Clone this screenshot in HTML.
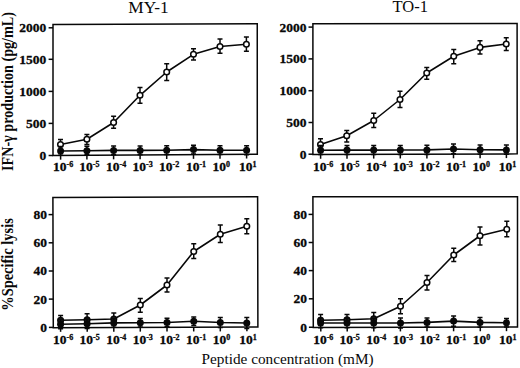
<!DOCTYPE html>
<html><head><meta charset="utf-8"><style>
html,body{margin:0;padding:0;background:#fff;width:520px;height:368px;overflow:hidden}
svg{display:block}
text{font-family:"Liberation Serif",serif;fill:#080808}
.fr{fill:none;stroke:#080808;stroke-width:1.5;stroke-linejoin:miter}
.tk{stroke:#080808;stroke-width:1.5}
.dl{fill:none;stroke:#080808;stroke-width:1.6;stroke-linejoin:round}
.eb{fill:none;stroke:#080808;stroke-width:1.5}
.oc{fill:#fff;stroke:#080808;stroke-width:1.5}
.fc{fill:#080808;stroke:none}
.dk{fill:#222}
.yl{font-weight:bold;font-size:13.5px;text-anchor:end;stroke:#080808;stroke-width:0.3px}
.xl{font-weight:bold;font-size:13.5px;stroke:#080808;stroke-width:0.3px}
.sup{font-size:8px}
.ti{font-size:16px}
.al{font-weight:bold;font-size:16px}
.xt{font-size:15px}
</style></head><body>
<svg width="520" height="368" viewBox="0 0 520 368">
<text class="ti" x="128.3" y="12.8" textLength="40.4" lengthAdjust="spacingAndGlyphs">MY-1</text>
<text class="ti" x="392.5" y="12.4" style="font-size:16.5px" textLength="35.4" lengthAdjust="spacingAndGlyphs">TO-1</text>
<text class="al" transform="translate(12.9,171) rotate(-90)" textLength="159" lengthAdjust="spacingAndGlyphs">IFN-&#947; production (pg/mL)</text>
<text class="al" transform="translate(12.9,310.8) rotate(-90)" textLength="92.6" lengthAdjust="spacingAndGlyphs">%Specific lysis</text>
<text class="xt" x="201.6" y="363.5" textLength="172" lengthAdjust="spacingAndGlyphs">Peptide concentration (mM)</text>
<path class="fr" d="M53 24.5 L257.25 23.8 L257.3 154.25 L53 155.5 Z"/>
<line class="tk" x1="48.6" y1="27.8" x2="53" y2="27.8"/>
<text class="yl" x="46.3" y="32.2">2000</text>
<line class="tk" x1="48.6" y1="59.3" x2="53" y2="59.3"/>
<text class="yl" x="46.3" y="63.7">1500</text>
<line class="tk" x1="48.6" y1="91.4" x2="53" y2="91.4"/>
<text class="yl" x="46.3" y="95.8">1000</text>
<line class="tk" x1="48.6" y1="123.4" x2="53" y2="123.4"/>
<text class="yl" x="46.3" y="127.8">500</text>
<line class="tk" x1="48.6" y1="155.5" x2="53" y2="155.5"/>
<text class="yl" x="46.3" y="159.9">0</text>
<line class="tk" x1="60.6" y1="155.45" x2="60.6" y2="159.65"/>
<text class="xl" x="53" y="171.4">10<tspan class="sup" dy="-4.1">-6</tspan></text>
<line class="tk" x1="86.9" y1="155.29" x2="86.9" y2="159.49"/>
<text class="xl" x="79.3" y="171.4">10<tspan class="sup" dy="-4.1">-5</tspan></text>
<line class="tk" x1="113.6" y1="155.13" x2="113.6" y2="159.33"/>
<text class="xl" x="106" y="171.4">10<tspan class="sup" dy="-4.1">-4</tspan></text>
<line class="tk" x1="140.1" y1="154.97" x2="140.1" y2="159.17"/>
<text class="xl" x="132.5" y="171.4">10<tspan class="sup" dy="-4.1">-3</tspan></text>
<line class="tk" x1="166.7" y1="154.8" x2="166.7" y2="159"/>
<text class="xl" x="159.1" y="171.4">10<tspan class="sup" dy="-4.1">-2</tspan></text>
<line class="tk" x1="193.5" y1="154.64" x2="193.5" y2="158.84"/>
<text class="xl" x="185.9" y="171.4">10<tspan class="sup" dy="-4.1">-1</tspan></text>
<line class="tk" x1="220" y1="154.48" x2="220" y2="158.68"/>
<text class="xl" x="212.4" y="171.4">10<tspan class="sup" dy="-4.1">0</tspan></text>
<line class="tk" x1="246.6" y1="154.32" x2="246.6" y2="158.52"/>
<text class="xl" x="239" y="171.4">10<tspan class="sup" dy="-4.1">1</tspan></text>
<polyline class="dl" points="60.6,151 86.9,150.8 113.6,150.4 140.1,150.4 166.7,150.2 193.5,149.6 220,150.2 246.6,150.3"/>
<polyline class="dl" points="60.5,144.5 86.9,139.3 113.6,122.5 140,95.3 166.7,72 193.5,54.3 220,46.5 246.4,44.3"/>
<path class="eb" d="M60.5 139.5V149.5M58 139.5h5M58 149.5h5"/>
<circle class="oc" cx="60.5" cy="144.5" r="2.8"/>
<path class="eb" d="M86.9 134.5V144.5M84.4 134.5h5M84.4 144.5h5"/>
<circle class="oc" cx="86.9" cy="139.3" r="2.8"/>
<path class="eb" d="M113.6 116.3V128.3M111.1 116.3h5M111.1 128.3h5"/>
<circle class="oc" cx="113.6" cy="122.5" r="2.8"/>
<path class="eb" d="M140 87.5V103.3M137.5 87.5h5M137.5 103.3h5"/>
<circle class="oc" cx="140" cy="95.3" r="2.8"/>
<path class="eb" d="M166.7 63.8V80.5M164.2 63.8h5M164.2 80.5h5"/>
<circle class="oc" cx="166.7" cy="72" r="2.8"/>
<path class="eb" d="M193.5 48.8V60M191 48.8h5M191 60h5"/>
<circle class="oc" cx="193.5" cy="54.3" r="2.8"/>
<path class="eb" d="M220 39V53.2M217.5 39h5M217.5 53.2h5"/>
<circle class="oc" cx="220" cy="46.5" r="2.8"/>
<path class="eb" d="M246.4 37V51.3M243.9 37h5M243.9 51.3h5"/>
<circle class="oc" cx="246.4" cy="44.3" r="2.8"/>
<path class="eb" d="M60.6 146.5V155.2M58.1 146.5h5M58.1 155.2h5"/>
<circle class="fc" cx="60.6" cy="151" r="3.5"/>
<path class="eb" d="M86.9 146.3V154.8M84.4 146.3h5M84.4 154.8h5"/>
<circle class="fc" cx="86.9" cy="150.8" r="3.5"/>
<path class="eb" d="M113.6 146V154.8M111.1 146h5M111.1 154.8h5"/>
<circle class="fc" cx="113.6" cy="150.4" r="3.5"/>
<path class="eb" d="M140.1 146V154.8M137.6 146h5M137.6 154.8h5"/>
<circle class="fc" cx="140.1" cy="150.4" r="3.5"/>
<path class="eb" d="M166.7 145.8V154.6M164.2 145.8h5M164.2 154.6h5"/>
<circle class="fc" cx="166.7" cy="150.2" r="3.5"/>
<path class="eb" d="M193.5 145.3V154M191 145.3h5M191 154h5"/>
<circle class="fc" cx="193.5" cy="149.6" r="3.5"/>
<path class="eb" d="M220 145.8V154.6M217.5 145.8h5M217.5 154.6h5"/>
<circle class="fc" cx="220" cy="150.2" r="3.5"/>
<path class="eb" d="M246.6 145.8V154.8M244.1 145.8h5M244.1 154.8h5"/>
<circle class="fc" cx="246.6" cy="150.3" r="3.5"/>
<path class="fr" d="M312.9 23.7 L517.1 23.55 L517.2 153.85 L312.9 154.6 Z"/>
<line class="tk" x1="308.5" y1="27.1" x2="312.9" y2="27.1"/>
<text class="yl" x="306.5" y="31.5">2000</text>
<line class="tk" x1="308.5" y1="58.9" x2="312.9" y2="58.9"/>
<text class="yl" x="306.5" y="63.3">1500</text>
<line class="tk" x1="308.5" y1="90.7" x2="312.9" y2="90.7"/>
<text class="yl" x="306.5" y="95.1">1000</text>
<line class="tk" x1="308.5" y1="122.5" x2="312.9" y2="122.5"/>
<text class="yl" x="306.5" y="126.9">500</text>
<line class="tk" x1="308.5" y1="154.2" x2="312.9" y2="154.2"/>
<text class="yl" x="306.5" y="158.6">0</text>
<line class="tk" x1="320.6" y1="154.57" x2="320.6" y2="158.77"/>
<text class="xl" x="313" y="170.8">10<tspan class="sup" dy="-4.1">-6</tspan></text>
<line class="tk" x1="347" y1="154.47" x2="347" y2="158.67"/>
<text class="xl" x="339.4" y="170.8">10<tspan class="sup" dy="-4.1">-5</tspan></text>
<line class="tk" x1="373.7" y1="154.38" x2="373.7" y2="158.58"/>
<text class="xl" x="366.1" y="170.8">10<tspan class="sup" dy="-4.1">-4</tspan></text>
<line class="tk" x1="400.3" y1="154.28" x2="400.3" y2="158.48"/>
<text class="xl" x="392.7" y="170.8">10<tspan class="sup" dy="-4.1">-3</tspan></text>
<line class="tk" x1="426.9" y1="154.18" x2="426.9" y2="158.38"/>
<text class="xl" x="419.3" y="170.8">10<tspan class="sup" dy="-4.1">-2</tspan></text>
<line class="tk" x1="453.5" y1="154.08" x2="453.5" y2="158.28"/>
<text class="xl" x="445.9" y="170.8">10<tspan class="sup" dy="-4.1">-1</tspan></text>
<line class="tk" x1="480.1" y1="153.99" x2="480.1" y2="158.19"/>
<text class="xl" x="472.5" y="170.8">10<tspan class="sup" dy="-4.1">0</tspan></text>
<line class="tk" x1="506.4" y1="153.89" x2="506.4" y2="158.09"/>
<text class="xl" x="498.8" y="170.8">10<tspan class="sup" dy="-4.1">1</tspan></text>
<polyline class="dl" points="320.6,150.2 347,150.1 373.7,150.1 400.3,150 426.9,149.9 453.5,149 480.1,149.8 506.4,149.9"/>
<polyline class="dl" points="320.5,144.5 346.75,135.75 373.75,120.5 400,99.5 426.75,73 453.75,56.25 480,47.4 506.25,44"/>
<path class="eb" d="M320.5 138.75V150.3M318 138.75h5M318 150.3h5"/>
<circle class="oc" cx="320.5" cy="144.5" r="2.8"/>
<path class="eb" d="M346.75 130.5V142M344.25 130.5h5M344.25 142h5"/>
<circle class="oc" cx="346.75" cy="135.75" r="2.8"/>
<path class="eb" d="M373.75 113.25V127.5M371.25 113.25h5M371.25 127.5h5"/>
<circle class="oc" cx="373.75" cy="120.5" r="2.8"/>
<path class="eb" d="M400 91.25V107.5M397.5 91.25h5M397.5 107.5h5"/>
<circle class="oc" cx="400" cy="99.5" r="2.8"/>
<path class="eb" d="M426.75 67.5V79.25M424.25 67.5h5M424.25 79.25h5"/>
<circle class="oc" cx="426.75" cy="73" r="2.8"/>
<path class="eb" d="M453.75 49.5V63.75M451.25 49.5h5M451.25 63.75h5"/>
<circle class="oc" cx="453.75" cy="56.25" r="2.8"/>
<path class="eb" d="M480 40.7V54M477.5 40.7h5M477.5 54h5"/>
<circle class="oc" cx="480" cy="47.4" r="2.8"/>
<path class="eb" d="M506.25 37.8V50.5M503.75 37.8h5M503.75 50.5h5"/>
<circle class="oc" cx="506.25" cy="44" r="2.8"/>
<path class="eb" d="M320.6 145.6V154.6M318.1 145.6h5M318.1 154.6h5"/>
<circle class="fc" cx="320.6" cy="150.2" r="3.5"/>
<path class="eb" d="M347 145.4V154.6M344.5 145.4h5M344.5 154.6h5"/>
<circle class="fc" cx="347" cy="150.1" r="3.5"/>
<path class="eb" d="M373.7 145.4V154.6M371.2 145.4h5M371.2 154.6h5"/>
<circle class="fc" cx="373.7" cy="150.1" r="3.5"/>
<path class="eb" d="M400.3 145.4V154.4M397.8 145.4h5M397.8 154.4h5"/>
<circle class="fc" cx="400.3" cy="150" r="3.5"/>
<path class="eb" d="M426.9 145.2V154.4M424.4 145.2h5M424.4 154.4h5"/>
<circle class="fc" cx="426.9" cy="149.9" r="3.5"/>
<path class="eb" d="M453.5 144V153.8M451 144h5M451 153.8h5"/>
<circle class="fc" cx="453.5" cy="149" r="3.5"/>
<path class="eb" d="M480.1 145V154.3M477.6 145h5M477.6 154.3h5"/>
<circle class="fc" cx="480.1" cy="149.8" r="3.5"/>
<path class="eb" d="M506.4 145V154.3M503.9 145h5M503.9 154.3h5"/>
<circle class="fc" cx="506.4" cy="149.9" r="3.5"/>
<path class="fr" d="M52.9 197.5 L257.6 196.7 L257.9 327.1 L53.3 327.65 Z"/>
<line class="tk" x1="48.55" y1="214.6" x2="52.95" y2="214.6"/>
<text class="yl" x="47" y="219">80</text>
<line class="tk" x1="48.64" y1="242.8" x2="53.04" y2="242.8"/>
<text class="yl" x="47" y="247.2">60</text>
<line class="tk" x1="48.73" y1="271" x2="53.13" y2="271"/>
<text class="yl" x="47" y="275.4">40</text>
<line class="tk" x1="48.81" y1="299.1" x2="53.21" y2="299.1"/>
<text class="yl" x="47" y="303.5">20</text>
<line class="tk" x1="48.9" y1="327.4" x2="53.3" y2="327.4"/>
<text class="yl" x="47" y="331.8">0</text>
<line class="tk" x1="60.6" y1="327.63" x2="60.6" y2="331.83"/>
<text class="xl" x="53" y="343.7">10<tspan class="sup" dy="-4.1">-6</tspan></text>
<line class="tk" x1="87.2" y1="327.56" x2="87.2" y2="331.76"/>
<text class="xl" x="79.6" y="343.7">10<tspan class="sup" dy="-4.1">-5</tspan></text>
<line class="tk" x1="113.8" y1="327.49" x2="113.8" y2="331.69"/>
<text class="xl" x="106.2" y="343.7">10<tspan class="sup" dy="-4.1">-4</tspan></text>
<line class="tk" x1="140.3" y1="327.42" x2="140.3" y2="331.62"/>
<text class="xl" x="132.7" y="343.7">10<tspan class="sup" dy="-4.1">-3</tspan></text>
<line class="tk" x1="167" y1="327.34" x2="167" y2="331.54"/>
<text class="xl" x="159.4" y="343.7">10<tspan class="sup" dy="-4.1">-2</tspan></text>
<line class="tk" x1="193.7" y1="327.27" x2="193.7" y2="331.47"/>
<text class="xl" x="186.1" y="343.7">10<tspan class="sup" dy="-4.1">-1</tspan></text>
<line class="tk" x1="220.3" y1="327.2" x2="220.3" y2="331.4"/>
<text class="xl" x="212.7" y="343.7">10<tspan class="sup" dy="-4.1">0</tspan></text>
<line class="tk" x1="246.9" y1="327.13" x2="246.9" y2="331.33"/>
<text class="xl" x="239.3" y="343.7">10<tspan class="sup" dy="-4.1">1</tspan></text>
<polyline class="dl" points="60.6,324.2 87.1,323.7 113.8,322.9 140.3,322.75 167,322.5 193.75,321.25 220.3,322.5 246.8,323"/>
<polyline class="dl" points="60.6,320.3 87.1,319.7 113.8,319 140.3,305 167,285 193.75,251.5 220.3,234.25 246.8,226.25"/>
<path class="eb" d="M60.6 315.6V324.4M58.1 315.6h5M58.1 324.4h5"/>
<circle class="oc dk" cx="60.6" cy="320.3" r="2.8"/>
<path class="eb" d="M87.1 313.75V324.6M84.6 313.75h5M84.6 324.6h5"/>
<circle class="oc dk" cx="87.1" cy="319.7" r="2.8"/>
<path class="eb" d="M113.8 312.9V324M111.3 312.9h5M111.3 324h5"/>
<circle class="oc dk" cx="113.8" cy="319" r="2.8"/>
<path class="eb" d="M140.3 298.5V312.25M137.8 298.5h5M137.8 312.25h5"/>
<circle class="oc" cx="140.3" cy="305" r="2.8"/>
<path class="eb" d="M167 278.1V292M164.5 278.1h5M164.5 292h5"/>
<circle class="oc" cx="167" cy="285" r="2.8"/>
<path class="eb" d="M193.75 243.75V258.5M191.25 243.75h5M191.25 258.5h5"/>
<circle class="oc" cx="193.75" cy="251.5" r="2.8"/>
<path class="eb" d="M220.3 225V242.5M217.8 225h5M217.8 242.5h5"/>
<circle class="oc" cx="220.3" cy="234.25" r="2.8"/>
<path class="eb" d="M246.8 218.75V233.75M244.3 218.75h5M244.3 233.75h5"/>
<circle class="oc" cx="246.8" cy="226.25" r="2.8"/>
<path class="eb" d="M60.6 319.6V328.8M58.1 319.6h5M58.1 328.8h5"/>
<circle class="fc" cx="60.6" cy="324.2" r="3.5"/>
<path class="eb" d="M87.1 319V328.4M84.6 319h5M84.6 328.4h5"/>
<circle class="fc" cx="87.1" cy="323.7" r="3.5"/>
<path class="eb" d="M113.8 318.6V327.2M111.3 318.6h5M111.3 327.2h5"/>
<circle class="fc" cx="113.8" cy="322.9" r="3.5"/>
<path class="eb" d="M140.3 318.5V327M137.8 318.5h5M137.8 327h5"/>
<circle class="fc" cx="140.3" cy="322.75" r="3.5"/>
<path class="eb" d="M167 318.25V326.75M164.5 318.25h5M164.5 326.75h5"/>
<circle class="fc" cx="167" cy="322.5" r="3.5"/>
<path class="eb" d="M193.75 317V325.5M191.25 317h5M191.25 325.5h5"/>
<circle class="fc" cx="193.75" cy="321.25" r="3.5"/>
<path class="eb" d="M220.3 317.5V327.5M217.8 317.5h5M217.8 327.5h5"/>
<circle class="fc" cx="220.3" cy="322.5" r="3.5"/>
<path class="eb" d="M246.8 317.5V328.5M244.3 317.5h5M244.3 328.5h5"/>
<circle class="fc" cx="246.8" cy="323" r="3.5"/>
<path class="fr" d="M312.9 196.8 L517.5 196.8 L517.5 326.95 L313.3 327.4 Z"/>
<line class="tk" x1="308.55" y1="214.4" x2="312.95" y2="214.4"/>
<text class="yl" x="307" y="218.8">80</text>
<line class="tk" x1="308.64" y1="242.5" x2="313.04" y2="242.5"/>
<text class="yl" x="307" y="246.9">60</text>
<line class="tk" x1="308.73" y1="270.6" x2="313.13" y2="270.6"/>
<text class="yl" x="307" y="275">40</text>
<line class="tk" x1="308.81" y1="298.8" x2="313.21" y2="298.8"/>
<text class="yl" x="307" y="303.2">20</text>
<line class="tk" x1="308.9" y1="327.25" x2="313.3" y2="327.25"/>
<text class="yl" x="307" y="331.65">0</text>
<line class="tk" x1="320.8" y1="327.38" x2="320.8" y2="331.58"/>
<text class="xl" x="313.2" y="343.6">10<tspan class="sup" dy="-4.1">-6</tspan></text>
<line class="tk" x1="347.2" y1="327.33" x2="347.2" y2="331.53"/>
<text class="xl" x="339.6" y="343.6">10<tspan class="sup" dy="-4.1">-5</tspan></text>
<line class="tk" x1="373.8" y1="327.27" x2="373.8" y2="331.47"/>
<text class="xl" x="366.2" y="343.6">10<tspan class="sup" dy="-4.1">-4</tspan></text>
<line class="tk" x1="400.4" y1="327.21" x2="400.4" y2="331.41"/>
<text class="xl" x="392.8" y="343.6">10<tspan class="sup" dy="-4.1">-3</tspan></text>
<line class="tk" x1="427" y1="327.15" x2="427" y2="331.35"/>
<text class="xl" x="419.4" y="343.6">10<tspan class="sup" dy="-4.1">-2</tspan></text>
<line class="tk" x1="453.6" y1="327.09" x2="453.6" y2="331.29"/>
<text class="xl" x="446" y="343.6">10<tspan class="sup" dy="-4.1">-1</tspan></text>
<line class="tk" x1="480.3" y1="327.03" x2="480.3" y2="331.23"/>
<text class="xl" x="472.7" y="343.6">10<tspan class="sup" dy="-4.1">0</tspan></text>
<line class="tk" x1="506.5" y1="326.97" x2="506.5" y2="331.17"/>
<text class="xl" x="498.9" y="343.6">10<tspan class="sup" dy="-4.1">1</tspan></text>
<polyline class="dl" points="320.6,323 347,323 373.75,323 400.5,323 427,322.4 453.6,321.1 480,322.4 506.5,322.8"/>
<polyline class="dl" points="320.6,320.2 347,319.7 373.75,318.8 400.5,306.25 427,282.5 453.75,255 480,235.75 506.8,229.25"/>
<path class="eb" d="M320.6 314.5V325.5M318.1 314.5h5M318.1 325.5h5"/>
<circle class="oc dk" cx="320.6" cy="320.2" r="2.8"/>
<path class="eb" d="M347 314.5V324.5M344.5 314.5h5M344.5 324.5h5"/>
<circle class="oc dk" cx="347" cy="319.7" r="2.8"/>
<path class="eb" d="M373.75 312.5V323.5M371.25 312.5h5M371.25 323.5h5"/>
<circle class="oc dk" cx="373.75" cy="318.8" r="2.8"/>
<path class="eb" d="M400.5 298.75V313.75M398 298.75h5M398 313.75h5"/>
<circle class="oc" cx="400.5" cy="306.25" r="2.8"/>
<path class="eb" d="M427 275.6V290M424.5 275.6h5M424.5 290h5"/>
<circle class="oc" cx="427" cy="282.5" r="2.8"/>
<path class="eb" d="M453.75 248.25V261.5M451.25 248.25h5M451.25 261.5h5"/>
<circle class="oc" cx="453.75" cy="255" r="2.8"/>
<path class="eb" d="M480 227V245M477.5 227h5M477.5 245h5"/>
<circle class="oc" cx="480" cy="235.75" r="2.8"/>
<path class="eb" d="M506.8 221.25V236.75M504.3 221.25h5M504.3 236.75h5"/>
<circle class="oc" cx="506.8" cy="229.25" r="2.8"/>
<path class="eb" d="M320.6 318.2V327.8M318.1 318.2h5M318.1 327.8h5"/>
<circle class="fc" cx="320.6" cy="323" r="3.5"/>
<path class="eb" d="M347 318.2V327.8M344.5 318.2h5M344.5 327.8h5"/>
<circle class="fc" cx="347" cy="323" r="3.5"/>
<path class="eb" d="M373.75 318.2V327.8M371.25 318.2h5M371.25 327.8h5"/>
<circle class="fc" cx="373.75" cy="323" r="3.5"/>
<path class="eb" d="M400.5 318V328M398 318h5M398 328h5"/>
<circle class="fc" cx="400.5" cy="323" r="3.5"/>
<path class="eb" d="M427 317.9V326.9M424.5 317.9h5M424.5 326.9h5"/>
<circle class="fc" cx="427" cy="322.4" r="3.5"/>
<path class="eb" d="M453.6 316V326.2M451.1 316h5M451.1 326.2h5"/>
<circle class="fc" cx="453.6" cy="321.1" r="3.5"/>
<path class="eb" d="M480 317.5V327.3M477.5 317.5h5M477.5 327.3h5"/>
<circle class="fc" cx="480" cy="322.4" r="3.5"/>
<path class="eb" d="M506.5 318.5V327.1M504 318.5h5M504 327.1h5"/>
<circle class="fc" cx="506.5" cy="322.8" r="3.5"/>
</svg>
</body></html>
